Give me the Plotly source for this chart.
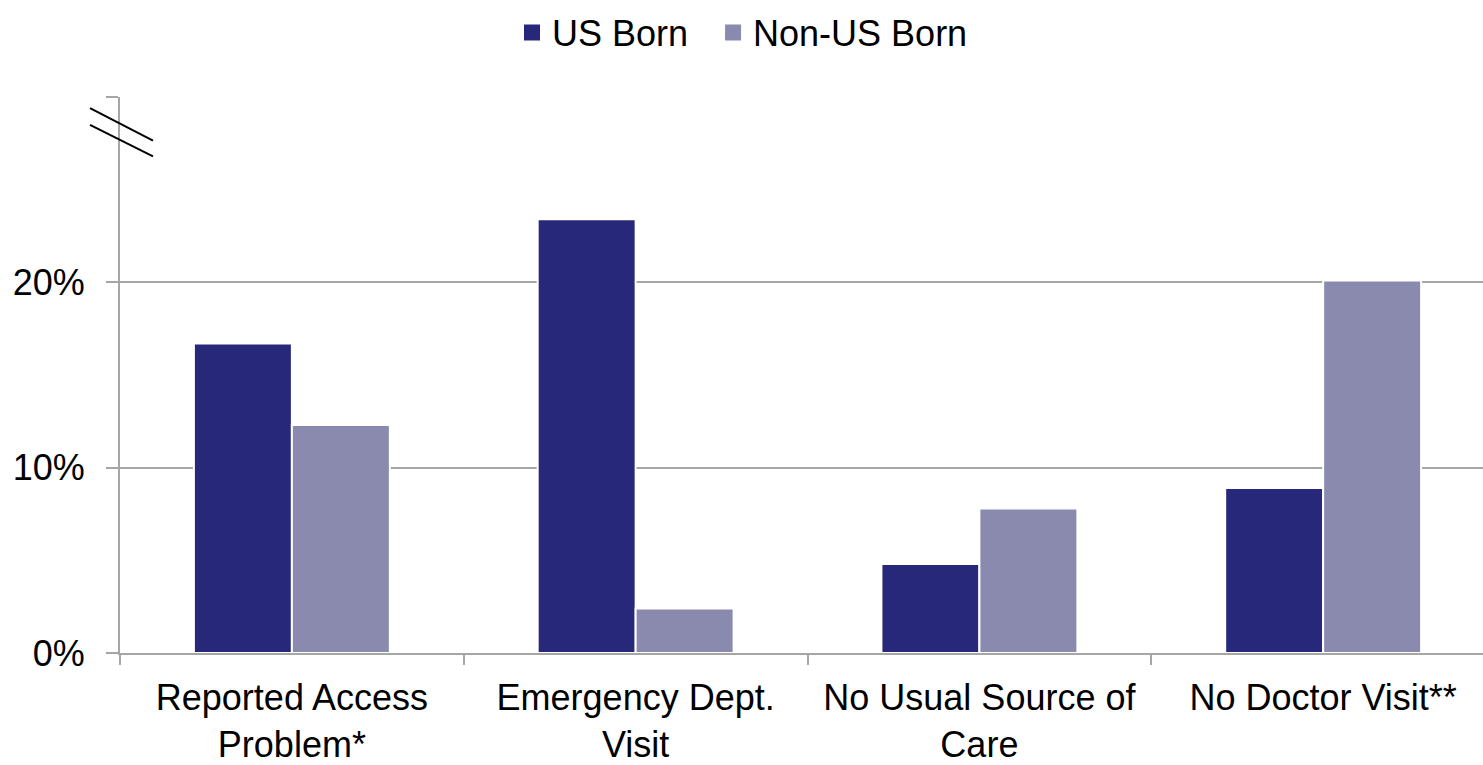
import plotly.graph_objects as go

categories = ["Reported Access<br>Problem*", "Emergency Dept.<br>Visit",
              "No Usual Source of<br>Care", "No Doctor Visit**"]
us_born = [16.7, 23.4, 4.8, 8.9]
non_us_born = [12.3, 2.4, 7.8, 20.1]
y_ticks = [0, 10, 20, 30]
y_labels = ["0%", "10%", "20%", ""]

font = "Liberation Sans, Arial, sans-serif"
grid = "#a6a6a6"
colors = {"US Born": "#28287a", "Non-US Born": "#8a8aae"}
pad = "\u00a0\u00a0"  # extra gap between legend entries

fig = go.Figure()
for name, vals in [("US Born", us_born), ("Non-US Born", non_us_born)]:
    fig.add_trace(go.Bar(x=categories, y=vals, name=name, showlegend=False,
                         marker=dict(color=colors[name], line=dict(color="white", width=2))))
    # bigger square legend markers
    fig.add_trace(go.Scatter(x=[None], y=[None], mode="markers", name=name + pad,
                             marker=dict(symbol="square", size=16, color=colors[name])))

# axis break marks at top of y axis
for y0, y1 in [(29.4, 27.65), (28.5, 26.8)]:
    fig.add_shape(type="line", xref="paper", yref="y",
                  x0=-0.022, x1=0.0242, y0=y0, y1=y1,
                  line=dict(color="black", width=2))

fig.update_layout(
    width=1483, height=765,
    margin=dict(l=120, r=0, t=97, b=112),
    plot_bgcolor="white", paper_bgcolor="white",
    font=dict(family=font, size=36, color="black"),
    barmode="group", bargap=0.43, bargroupgap=0,
    legend=dict(orientation="h", x=0.2876, xanchor="left", y=1.17, yanchor="top",
                font=dict(size=36), itemwidth=30),
    xaxis=dict(range=[-0.5, 3.465], showline=True, linecolor=grid, linewidth=2,
               ticks="outside", tickson="boundaries", ticklen=10, tickcolor=grid,
               tickwidth=2, showgrid=False, automargin=False, ticklabelstandoff=12),
    yaxis=dict(range=[0, 30], tickvals=y_ticks, ticktext=y_labels,
               showline=True, linecolor=grid, linewidth=2,
               ticks="outside", ticklen=12, tickcolor=grid, tickwidth=2,
               showgrid=True, gridcolor=grid, gridwidth=2, zeroline=False,
               automargin=False, ticklabelstandoff=14),
)

fig.write_html("out.html", config={"displayModeBar": False},
               post_script="document.body.style.margin='0';")
